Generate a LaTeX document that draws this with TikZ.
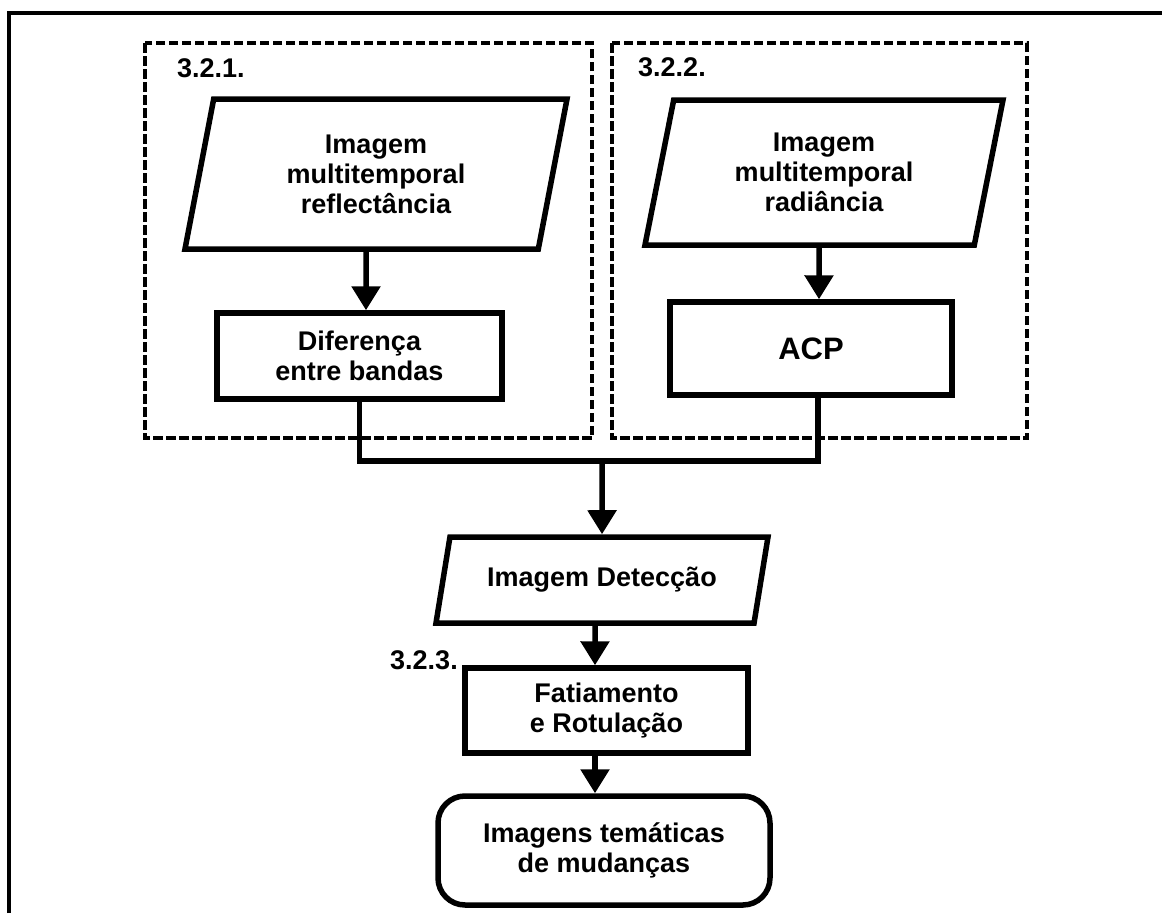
\documentclass[tikz,border=0pt]{standalone}
\usepackage{fontspec}
\setmainfont{Liberation Sans}
\usetikzlibrary{shapes.geometric,arrows.meta}
\begin{document}
\begin{tikzpicture}[x=1pt,y=-1pt,
  every node/.style={font=\fontsize{27}{30}\selectfont\bfseries, align=center},
  solidbox/.style={draw, line width=5.5pt, inner sep=0pt},
  procbox/.style={solidbox, rectangle},
  iobox/.style={solidbox, trapezium, trapezium left angle=70, trapezium right angle=110, trapezium stretches body},
  groupbox/.style={draw, line width=4.5pt, dash pattern=on 9.5pt off 3.5pt},
  flow/.style={line width=5.5pt},
  arr/.style={flow, -{Triangle[length=24pt,width=28pt]}},
  tag/.style={anchor=west, inner sep=0pt}
]
\useasboundingbox (0,0) rectangle (1162,913);

% frame rules along the top and the left side
\draw[line width=4pt] (9,913) -- (9,13) -- (1162,13);

% the two dashed method groups
\draw[groupbox] (145,43) rectangle (592,438);
\draw[groupbox] (612,43) rectangle (1027,438);

% section tags
\node[tag] (l1) at (177,68) {3.2.1.};
\node[tag] (l2) at (638,67) {3.2.2.};
\node[tag] (l3) at (390,660) {3.2.3.};

% flowchart blocks
\node[iobox, minimum width=382pt, minimum height=150pt] (p1) at (376,174) {Imagem\\multitemporal\\reflectância};
\node[iobox, minimum width=358pt, minimum height=145pt] (p2) at (824,172.5) {Imagem\\multitemporal\\radiância};
\node[procbox, minimum width=285pt, minimum height=86pt] (dif) at (359.5,356) {Diferença\\entre bandas};
\node[procbox, minimum width=282pt, minimum height=93pt, font=\fontsize{31}{34}\selectfont\bfseries] (acp) at (811,348.5) {ACP};
\node[iobox, trapezium left angle=61, trapezium right angle=119, minimum width=332pt, minimum height=86pt] (det) at (602,580) {Imagem Detecção};
\node[procbox, minimum width=283pt, minimum height=85pt] (fat) at (606.5,710.5) {Fatiamento\\e Rotulação};
\node[procbox, rounded corners=27pt, minimum width=332pt, minimum height=109pt] (out) at (604,850.5) {Imagens temáticas\\de mudanças};

% connectors
\coordinate (j) at (602,461);
\draw[arr] ([xshift=-10pt]p1.south) -- ([xshift=6.5pt]dif.north);
\draw[arr] ([xshift=-5pt]p2.south) -- ([xshift=8pt]acp.north);
\draw[flow] (dif.south) |- (j) -| ([xshift=7pt]acp.south);
\draw[arr] (j) -- (det.north);
\draw[arr] ([xshift=-7pt]det.south) -- ([xshift=-11.5pt]fat.north);
\draw[arr] ([xshift=-11.5pt]fat.south) -- ([xshift=-9pt]out.north);
\end{tikzpicture}
\end{document}
